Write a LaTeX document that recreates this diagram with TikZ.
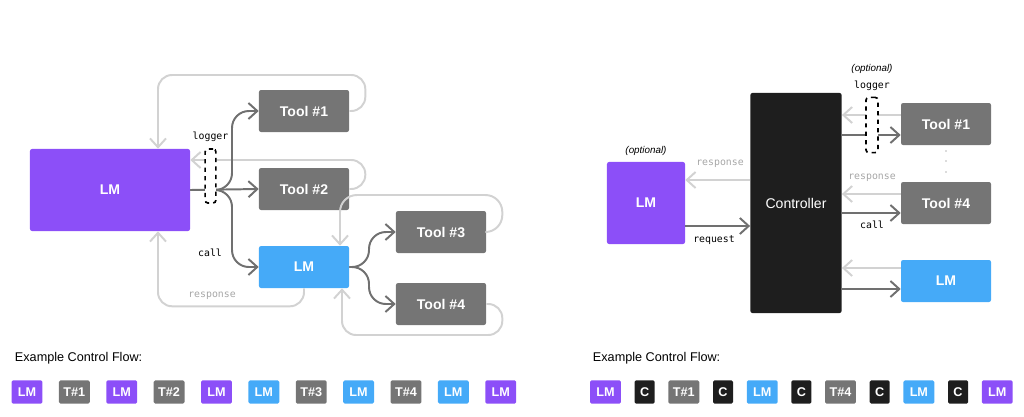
\documentclass[tikz,border=0pt]{standalone}
\usepackage{fontspec}
\setmainfont{Liberation Sans}
\newfontfamily\codefont{DejaVu Sans Mono}
\usetikzlibrary{arrows.meta, positioning, calc}
\definecolor{lmpurple}{HTML}{8C4FF8}
\definecolor{lmblue}{HTML}{45AAF8}
\definecolor{toolgray}{HTML}{757575}
\definecolor{ctrlblack}{HTML}{1E1E1E}
\definecolor{linelight}{HTML}{D2D2D2}
\definecolor{linedark}{HTML}{707070}

\begin{document}
\begin{tikzpicture}[
    x=0.025cm, y=-0.025cm,
    box/.style={rectangle, rounded corners=1.5pt, text=white, font=\bfseries\normalsize, inner sep=0pt},
    tool/.style={box, fill=toolgray, minimum width=2.25cm, minimum height=1.05cm},
    lmbig/.style={box, fill=lmpurple},
    lmsmall/.style={box, fill=lmblue, minimum width=2.25cm, minimum height=1.05cm},
    dark/.style={draw=linedark, line width=1.4pt, -{Straight Barb[length=2.2mm, width=4mm]}},
    light/.style={draw=linelight, line width=1.4pt, -{Straight Barb[length=2.2mm, width=4mm]}},
    logbox/.style={draw=black, dashed, line width=1.2pt, rounded corners=2pt, fill=white},
    tag/.style={font=\codefont\scriptsize},
    lighttag/.style={tag, text=gray!70},
    note/.style={font=\itshape\scriptsize},
    badge/.style={rectangle, rounded corners=1pt, text=white, font=\bfseries\small, minimum height=0.58cm, minimum width=0.77cm, inner sep=0pt}
]
\useasboundingbox (0,0) rectangle (1024,416);

% left: LM calls tools and LMs
\node[lmbig, minimum width=4cm, minimum height=2.05cm] (lm1) at (110,190) {LM};
\node[tool] (tool1) at (304,111) {Tool \#1};
\node[tool] (tool2) at (304,189) {Tool \#2};
\node[lmsmall] (lm2) at (304,267) {LM};
\node[tool] (tool3) at (441,232) {Tool \#3};
\node[tool] (tool4) at (441,304) {Tool \#4};

\draw[light, rounded corners=10] (tool1.east) -- ++(16,0) |- (158,75) -- (158,0 |- lm1.north);
\draw[light, rounded corners=10] (tool2.east) -- ++(16,0) |- (lm1.east |- 0,160);
\draw[light, rounded corners=10] (lm2.south) -- ++(0,18) -| (158,0 |- lm1.south);
\draw[light, rounded corners=12] (tool3.east) -- ++(16,0) |- (340,195) -- (340,0 |- lm2.north);
\draw[light, rounded corners=10] (tool4.east) -- ++(16,0) |- (342,335) -- (342,0 |- lm2.south);

\draw[dark] (lm1.east) -- (tool2.west);
\draw[dark, rounded corners=12] (lm1.east) -- (232,190) |- (tool1.west);
\draw[dark, rounded corners=12] (lm1.east) -- (232,190) |- (lm2.west);
\draw[dark, rounded corners=12] (lm2.east) -- (369,267) |- (tool3.west);
\draw[dark, rounded corners=12] (lm2.east) -- (369,267) |- (tool4.west);

\node[logbox, minimum width=0.27cm, minimum height=1.35cm] (log1) at (210.5,176) {};
\node[tag, above=1pt of log1] (logtag1) {logger};
\node[tag] (call1) at (210,253) {call};
\node[lighttag] (resp1) at (212,296) {response};

% right: controller in the middle
\node[lmbig, minimum width=1.95cm, minimum height=2.05cm] (lm3) at (646,203) {LM};
\node[note, above=1pt of lm3] (opt1) {(optional)};
\node[box, fill=ctrlblack, font=\normalsize, minimum width=2.28cm, minimum height=5.5cm] (ctrl) at (796,203) {Controller};
\node[tool] (tool5) at (946,124) {Tool \#1};
\node[tool] (tool6) at (946,203) {Tool \#4};
\node[lmsmall] (lm4) at (946,281) {LM};

\draw[light] (ctrl.west |- 0,180) -- (lm3.east |- 0,180);
\draw[dark] (lm3.east |- 0,226) -- (ctrl.west |- 0,226);
\node[lighttag] (resp2) at (720,164) {response};
\node[tag] (req) at (714,240) {request};

\foreach \t/\a/\b in {tool5/115/135, tool6/194/213, lm4/268/289} {
  \draw[light] (\t.west |- 0,\a) -- (ctrl.east |- 0,\a);
  \draw[dark] (ctrl.east |- 0,\b) -- (\t.west |- 0,\b);
}
\node[logbox, minimum width=0.3cm, minimum height=1.38cm] (log2) at (872,125) {};
\node[tag, above=1pt of log2] (logtag2) {logger};
\node[note, above=-2pt of logtag2] (opt2) {(optional)};
\node[lighttag] (resp3) at (872,178) {response};
\node[tag] (call2) at (872,225) {call};
\foreach \y in {151,161,172} \fill[black!60] (946,\y) circle (0.6);

% example control flows
\node[anchor=west, font=\small] (flow1) at (10,358) {Example Control Flow:};
\node[badge, fill=lmpurple] (a1) at (27,392) {LM};
\node[badge, fill=toolgray, right=0.4cm of a1] (a2) {T\#1};
\node[badge, fill=lmpurple, right=0.4cm of a2] (a3) {LM};
\node[badge, fill=toolgray, right=0.4cm of a3] (a4) {T\#2};
\node[badge, fill=lmpurple, right=0.4cm of a4] (a5) {LM};
\node[badge, fill=lmblue, right=0.4cm of a5] (a6) {LM};
\node[badge, fill=toolgray, right=0.4cm of a6] (a7) {T\#3};
\node[badge, fill=lmblue, right=0.4cm of a7] (a8) {LM};
\node[badge, fill=toolgray, right=0.4cm of a8] (a9) {T\#4};
\node[badge, fill=lmblue, right=0.4cm of a9] (a10) {LM};
\node[badge, fill=lmpurple, right=0.4cm of a10] (a11) {LM};

\node[anchor=west, font=\small] (flow2) at (588,358) {Example Control Flow:};
\node[badge, fill=lmpurple] (b1) at (605.5,392) {LM};
\node[badge, fill=ctrlblack, minimum width=0.5cm, right=0.33cm of b1] (b2) {C};
\node[badge, fill=toolgray, right=0.33cm of b2] (b3) {T\#1};
\node[badge, fill=ctrlblack, minimum width=0.5cm, right=0.33cm of b3] (b4) {C};
\node[badge, fill=lmblue, right=0.33cm of b4] (b5) {LM};
\node[badge, fill=ctrlblack, minimum width=0.5cm, right=0.33cm of b5] (b6) {C};
\node[badge, fill=toolgray, right=0.33cm of b6] (b7) {T\#4};
\node[badge, fill=ctrlblack, minimum width=0.5cm, right=0.33cm of b7] (b8) {C};
\node[badge, fill=lmblue, right=0.33cm of b8] (b9) {LM};
\node[badge, fill=ctrlblack, minimum width=0.5cm, right=0.33cm of b9] (b10) {C};
\node[badge, fill=lmpurple, right=0.33cm of b10] (b11) {LM};
\end{tikzpicture}
\end{document}
